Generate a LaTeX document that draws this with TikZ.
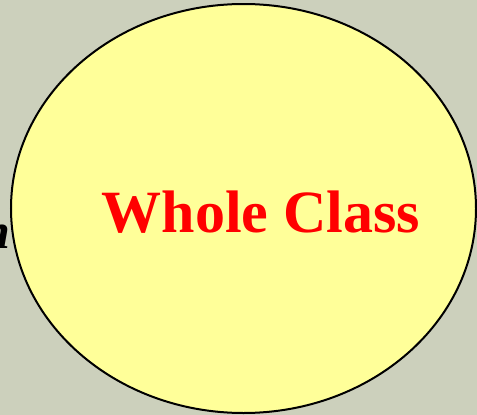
\documentclass[tikz,border=0pt]{standalone}
\usepackage{fontspec}
\setmainfont{Liberation Serif}
\usepackage{tikz}
\usetikzlibrary{shapes.geometric, positioning}
\definecolor{cBack}{RGB}{204,208,188}
\definecolor{cYellow}{RGB}{255,255,153}
\definecolor{cRed}{RGB}{255,0,0}
\tikzset{
  groupnode/.style={ellipse, draw=black, fill=cYellow, line width=2pt,
                    minimum width=465pt, minimum height=409pt, inner sep=0pt},
  titlenode/.style={font=\bfseries\fontsize{60}{72}\selectfont,
                    text=cRed, inner sep=0pt},
  hiddennode/.style={font=\bfseries\itshape\fontsize{50}{60}\selectfont,
                     inner sep=0pt}
}

\begin{document}
\begin{tikzpicture}[x=1pt, y=-1pt]
  \useasboundingbox (0,0) rectangle (477,415);
  \clip (0,0) rectangle (477,415);
  \fill[cBack] (0,0) rectangle (477,415);

  % text half hidden behind the ellipse
  \node[hiddennode, anchor=base east] (hid) at (11,248) {n};

  \node[groupnode] (whole) at (243.5,208.5) {};
  \node[titlenode, anchor=base] (title) at (261,232) {Whole Class};
\end{tikzpicture}
\end{document}
